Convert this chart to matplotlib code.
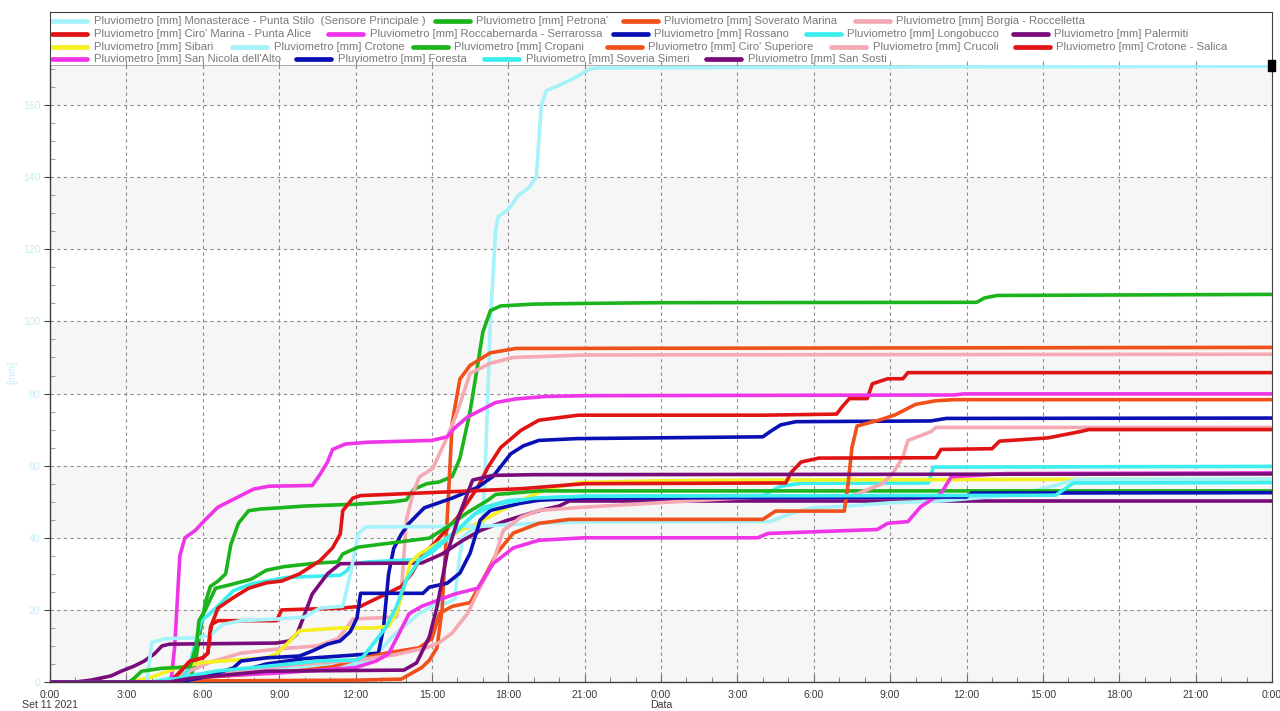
import matplotlib
matplotlib.use("Agg")
import matplotlib.pyplot as plt
import matplotlib.transforms as mtransforms
from matplotlib.lines import Line2D
from matplotlib.patches import Rectangle
from matplotlib.ticker import MultipleLocator, FixedLocator

plt.rcParams['font.family'] = ['Liberation Sans', 'DejaVu Sans']

# ---------------- data (hours from Set 11 2021 0:00, cumulative mm) ----------------
names = [
    "Pluviometro [mm] Monasterace - Punta Stilo  (Sensore Principale )",
    "Pluviometro [mm] Petrona'",
    "Pluviometro [mm] Soverato Marina",
    "Pluviometro [mm] Borgia - Roccelletta",
    "Pluviometro [mm] Ciro' Marina - Punta Alice",
    "Pluviometro [mm] Roccabernarda - Serrarossa",
    "Pluviometro [mm] Rossano",
    "Pluviometro [mm] Longobucco",
    "Pluviometro [mm] Palermiti",
    "Pluviometro [mm] Sibari",
    "Pluviometro [mm] Crotone",
    "Pluviometro [mm] Cropani",
    "Pluviometro [mm] Ciro' Superiore",
    "Pluviometro [mm] Crucoli",
    "Pluviometro [mm] Crotone - Salica",
    "Pluviometro [mm] San Nicola dell'Alto",
    "Pluviometro [mm] Foresta",
    "Pluviometro [mm] Soveria Simeri",
    "Pluviometro [mm] San Sosti",
]

PALE = '#a6f2fa'; GREEN = '#1cb41c'; ORANGE = '#f0501a'; PINK = '#f4a9b3'
RED = '#e01414'; MAGENTA = '#f034e8'; BLUE = '#0a10b4'; CYAN = '#3ceeee'
PURPLE = '#7a0c7a'; YELLOW = '#f6f020'

colors = [PALE, GREEN, ORANGE, PINK, RED, MAGENTA, BLUE, CYAN, PURPLE, YELLOW,
          PALE, GREEN, ORANGE, PINK, RED, MAGENTA, BLUE, CYAN, PURPLE]

t_monasterace = [0, 4.0, 4.5, 5.5, 7, 9, 11, 12, 12.5, 13.0, 13.5, 14.0, 14.5, 15.0, 15.6, 15.9, 16.0, 16.2, 16.5, 17.0, 17.1, 17.3, 17.5, 17.6, 18.0, 18.4, 18.8, 19.1, 19.3, 19.5, 20.0, 20.6, 21.2, 21.5, 30, 48]
v_monasterace = [0, 0, 1, 2, 3, 4, 4.5, 5, 6, 9, 13, 16, 19, 21, 22, 23, 30, 40, 42, 43, 60, 100, 125, 129, 131, 135, 137, 140, 160, 164, 165.5, 167.5, 170, 170.3, 170.5, 170.8]

t_petrona = [0, 5.2, 5.5, 5.7, 5.9, 6.1, 6.3, 6.6, 6.9, 7.1, 7.4, 7.8, 8.3, 9, 10, 12, 13.5, 14.0, 14.3, 14.8, 15.3, 15.8, 16.1, 16.5, 16.8, 17.0, 17.3, 17.7, 19, 21, 24, 36.4, 36.7, 37.2, 48]
v_petrona = [0, 0, 1, 5, 14, 22, 26.5, 28, 30, 38, 44, 47.5, 48, 48.3, 48.8, 49.3, 50, 50.5, 53.5, 55, 55.5, 57, 62, 75, 88, 97, 103, 104.3, 104.8, 105, 105.2, 105.3, 106.5, 107.2, 107.5]

t_soverato = [0, 5, 6, 12, 13.8, 14.1, 14.6, 14.9, 15.2, 15.4, 15.6, 15.8, 16.1, 16.5, 17.3, 18.3, 48]
v_soverato = [0, 0, 0.3, 0.5, 0.8, 2, 4, 6, 9.5, 20, 45, 72, 84, 87.8, 91.3, 92.5, 92.8]

t_borgia = [0, 4.5, 5.3, 6.3, 7.5, 9, 10.5, 11.3, 11.6, 11.9, 13.6, 13.8, 14.0, 14.26, 14.5, 15.04, 15.6, 15.98, 16.5, 17.3, 18.2, 21, 48]
v_borgia = [0, 0, 2.5, 5.5, 8, 9.2, 10, 12, 14.5, 17.5, 18, 25, 45, 52.4, 56.8, 59.3, 67.9, 74.5, 85.6, 88.4, 90, 90.7, 90.9]

t_ciro_marina = [0, 4.7, 5.0, 5.5, 6.0, 6.2, 6.35, 6.6, 8.9, 9.1, 11.5, 12.2, 12.9, 13.8, 14.2, 14.6, 15.1, 16.0, 16.8, 17.2, 17.7, 18.5, 19.2, 20.75, 28, 30.9, 31.1, 31.4, 32.1, 32.3, 32.9, 33.5, 33.7, 48]
v_ciro_marina = [0, 0, 2, 5.8, 6.7, 8, 16, 17, 17, 20, 20.5, 21, 23.4, 26.5, 30, 35, 38.5, 45.6, 54, 59.5, 65, 69.8, 72.6, 74, 74, 74.3, 76.2, 78.6, 78.6, 82.7, 84.1, 84.1, 85.8, 85.8]

t_roccabernarda = [0, 4.75, 4.9, 5.1, 5.3, 5.7, 6.1, 6.6, 7.3, 8.0, 8.6, 10.3, 10.6, 10.9, 11.1, 11.6, 12.5, 15.0, 15.6, 15.9, 16.4, 16.9, 17.5, 18.3, 19.5, 21, 35.5, 35.9, 48]
v_roccabernarda = [0, 0, 10, 35, 40, 42, 45, 48.5, 51, 53.5, 54.3, 54.5, 57.5, 61, 64.5, 66, 66.5, 67, 68, 70.5, 73.5, 75.3, 77.5, 78.5, 79.2, 79.4, 79.6, 79.9, 79.9]

t_rossano = [0, 5.0, 5.5, 6.5, 7.5, 8.5, 10, 12, 12.9, 13.1, 13.3, 13.5, 13.8, 14.1, 14.7, 15.8, 16.8, 17.4, 18.1, 18.6, 19.2, 20.7, 28, 28.3, 28.7, 29.3, 34.6, 35.2, 48]
v_rossano = [0, 0, 1, 2, 3, 5, 6.5, 7.5, 8, 15, 30, 37, 41, 44, 48.3, 51, 54, 57, 63.3, 65.5, 67, 67.5, 68, 69.5, 71.3, 72.2, 72.4, 73.1, 73.2]

t_longobucco = [0, 5.0, 5.3, 5.5, 5.75, 5.95, 6.4, 6.8, 7.2, 7.9, 8.5, 9.3, 11.4, 11.6, 11.9, 12.5, 14.5, 15.0, 15.5, 16.0, 16.5, 17.0, 18.0, 19.3, 21, 28, 28.7, 29.5, 34.5, 34.7, 48]
v_longobucco = [0, 0, 2, 5, 12, 17, 19.7, 22.5, 25.3, 27.2, 28, 29, 29.6, 30.5, 32.8, 33.3, 34, 36, 39, 42, 45.5, 48.3, 50.3, 51, 51.5, 51.7, 54.3, 55.1, 55.2, 59.6, 59.8]

t_palermiti = [0, 1.0, 1.6, 2.4, 2.8, 3.3, 3.7, 4.1, 4.4, 4.7, 8.9, 9.4, 9.7, 9.95, 10.3, 10.9, 11.4, 12.3, 14.6, 15.4, 16.2, 16.9, 17.9, 19.2, 20, 20.4, 48]
v_palermiti = [0, 0, 0.5, 1.7, 3, 4.4, 5.8, 7.8, 10, 10.5, 10.8, 11.4, 13.3, 17.8, 24.4, 30, 32.8, 32.9, 33, 35.5, 39.2, 42, 44.7, 47.5, 48.8, 50.2, 50.2]

t_sibari = [0, 3.1, 3.9, 5.0, 5.9, 6.7, 8.5, 8.9, 9.3, 9.8, 11.4, 12.8, 13.3, 13.6, 13.9, 14.15, 14.5, 15.2, 16.1, 16.8, 17.7, 18.7, 19.5, 20.8, 24, 28, 40, 48]
v_sibari = [0, 0, 1.1, 3.9, 5.3, 5.8, 6.7, 7.8, 10.5, 14.2, 15, 15, 15.5, 19, 26, 33, 35.5, 38.3, 42, 44, 47.5, 51, 53.5, 55.3, 55.8, 56, 56.2, 56.2]

t_crotone = [0, 3.8, 4.0, 4.5, 5.8, 6.3, 6.8, 7.5, 9, 10, 10.6, 11.5, 11.8, 12.1, 12.4, 17, 19, 21, 28.3, 29, 29.9, 31.4, 33, 35, 38, 39.5, 40.3, 48]
v_crotone = [0, 0, 11, 12, 12.3, 13, 16, 17, 17.5, 18, 20.5, 21, 30, 41, 43, 43.2, 44, 44.4, 44.5, 46.5, 48.3, 48.8, 49.7, 50.2, 52, 54.5, 56.2, 56.3]

t_cropani = [0, 3.1, 3.3, 3.6, 4.4, 5.5, 5.75, 5.85, 6.1, 6.5, 7.1, 7.9, 8.5, 9.2, 10.5, 11.3, 11.5, 12.1, 14.9, 15.6, 16.4, 17.2, 17.5, 19.2, 48]
v_cropani = [0, 0, 1, 3, 3.8, 4.2, 10, 17, 20, 26, 27, 28.5, 31, 32, 33, 33.3, 35.5, 37.4, 39.9, 43, 47, 50.4, 52, 53, 53]

t_ciro_sup = [0, 5.0, 5.5, 6.3, 8, 10, 11.1, 11.9, 13.2, 14.5, 15.0, 15.3, 15.8, 16.5, 17.0, 17.55, 18.2, 19.2, 20.4, 28, 28.5, 31.2, 31.35, 31.5, 31.7, 32.6, 33.2, 34.0, 34.8, 35.5, 48]
v_ciro_sup = [0, 0, 0.5, 1.4, 2.2, 3.3, 4.2, 6, 8, 9.5, 12, 19, 21, 22, 28.3, 35.7, 41.3, 44, 45.1, 45.1, 47.4, 47.4, 55, 65, 71, 72.7, 74.1, 77, 78, 78.3, 78.3]

t_crucoli = [0, 4.6, 6.0, 8, 10, 12, 13.5, 14.8, 15.3, 15.8, 16.4, 16.9, 17.4, 17.8, 18.5, 19.2, 21, 28, 31.5, 32.7, 33.1, 33.5, 33.7, 34.6, 34.8, 48]
v_crucoli = [0, 0, 2, 3.5, 5, 6, 7.5, 9.5, 11, 13.6, 19, 26.3, 33, 42, 45.7, 47.6, 48.5, 51.4, 51.6, 55, 57.8, 62.4, 67, 69.4, 70.6, 70.6]

t_salica = [0, 4.7, 5.0, 5.5, 6.0, 6.2, 6.3, 6.6, 7.2, 7.8, 8.5, 9.1, 9.8, 10.6, 11.1, 11.4, 11.5, 11.9, 12.2, 18.5, 21, 28.9, 29.1, 29.5, 30.2, 34.8, 35.0, 37.0, 37.3, 39.2, 40.5, 40.8, 48]
v_salica = [0, 0, 2, 5.8, 6.7, 8, 15, 20.5, 23.4, 26, 27.5, 28, 30, 33.6, 37.2, 41, 47.5, 51, 51.7, 53.6, 55, 55.2, 58, 61, 62.1, 62.2, 64.5, 64.7, 66.8, 67.7, 69.5, 70, 70]

t_san_nicola = [0, 4.5, 6, 9, 11, 12, 12.8, 13.3, 13.7, 14.1, 14.6, 15.9, 16.8, 17.4, 18.2, 19.2, 21, 27.8, 28.2, 32.5, 32.9, 33.7, 34.2, 35, 35.4, 37.5, 48]
v_san_nicola = [0, 0, 1.5, 2.5, 3.5, 4, 5.8, 7.8, 13.3, 18.9, 21, 24.4, 26, 32.8, 37.2, 39.3, 40, 40, 41.2, 42.3, 44, 44.5, 48.6, 52.3, 56.9, 57.8, 58]

t_foresta = [0, 5.0, 5.9, 6.6, 7.2, 7.5, 8.5, 9.8, 10.3, 10.9, 11.4, 11.8, 12.06, 12.2, 14.65, 14.9, 15.6, 16.1, 16.5, 16.9, 17.3, 18.5, 19.2, 21, 36.0, 36.2, 48]
v_foresta = [0, 0, 1.1, 2.5, 3.9, 5.8, 6.7, 7.2, 8.6, 10.5, 11.4, 14, 17.8, 24.6, 24.6, 26.3, 27.4, 30.2, 35.7, 44.9, 47.6, 49.6, 50.4, 51, 51.3, 52.4, 52.5]

t_soveria = [0, 4.0, 5, 6.5, 8, 10.5, 12.0, 12.3, 13.2, 13.6, 14.0, 14.5, 15.2, 16, 16.7, 17.6, 19, 21, 39.5, 40.2, 48]
v_soveria = [0, 0, 1, 3, 4, 5.8, 6.1, 7, 15.2, 20.8, 28.3, 33.8, 38, 42, 46.7, 49.4, 51, 51.5, 51.8, 55.2, 55.3]

t_san_sosti = [0, 4.7, 5.5, 7, 8.5, 13.9, 14.4, 14.9, 15.2, 15.6, 16.1, 16.6, 17.4, 19, 48]
v_san_sosti = [0, 0, 1, 2, 3, 3.3, 5.3, 12.5, 20.8, 35.7, 46.8, 56, 57.3, 57.5, 57.7]

series_t = [t_monasterace, t_petrona, t_soverato, t_borgia, t_ciro_marina, t_roccabernarda,
            t_rossano, t_longobucco, t_palermiti, t_sibari, t_crotone, t_cropani, t_ciro_sup,
            t_crucoli, t_salica, t_san_nicola, t_foresta, t_soveria, t_san_sosti]
series_v = [v_monasterace, v_petrona, v_soverato, v_borgia, v_ciro_marina, v_roccabernarda,
            v_rossano, v_longobucco, v_palermiti, v_sibari, v_crotone, v_cropani, v_ciro_sup,
            v_crucoli, v_salica, v_san_nicola, v_foresta, v_soveria, v_san_sosti]

x_ticks = list(range(0, 49, 3))
x_tick_labels = [f"{h % 24}:00" for h in x_ticks]
y_ticks = list(range(0, 161, 20))

# legend layout: row index and handle left edge (pixels)
leg_row = [0, 0, 0, 0, 1, 1, 1, 1, 1, 2, 2, 2, 2, 2, 2, 3, 3, 3, 3]
leg_x = [50, 433, 621, 853, 50, 326, 611, 804, 1011, 50, 230, 411, 605, 829, 1013, 50, 294, 482, 704]
row_y = [20.7, 33.6, 46.5, 59.3]

# ---------------- figure ----------------
W, H = 1280, 711
fig = plt.figure(figsize=(W / 100, H / 100), dpi=100)
fig.patch.set_facecolor('white')

L, R, T, B, TOPLEG = 50, 1272, 64.7, 682, 12
ax = fig.add_axes([L / W, 1 - B / H, (R - L) / W, (B - T) / H])
ax.set_facecolor('white')
ax.set_xlim(0, 48)
ax.set_ylim(0, 171.2)

# alternating bands
for lo in range(0, 180, 40):
    ax.axhspan(lo, lo + 20, color='#f6f6f6', zorder=0, lw=0)

ax.xaxis.set_major_locator(FixedLocator(x_ticks))
ax.set_xticklabels(x_tick_labels)
ax.xaxis.set_minor_locator(MultipleLocator(1))
ax.yaxis.set_major_locator(FixedLocator(y_ticks))
ax.yaxis.set_minor_locator(MultipleLocator(5))

ax.grid(True, which='major', linestyle=(0, (3, 3)), color='#8c8c8c', linewidth=0.8, zorder=1)
ax.set_axisbelow(True)

ax.tick_params(axis='x', which='major', direction='in', length=5, color='#707070',
               labelsize=7.6, labelcolor='#3a3a3a', pad=6)
ax.tick_params(axis='x', which='minor', direction='in', length=3.5, color='#707070')
ax.tick_params(axis='y', which='major', direction='out', length=4, color='#404040',
               labelsize=7.6, labelcolor='#c2eff6', pad=3)
ax.tick_params(axis='y', which='minor', direction='in', length=3.5, color='#909090')

for s in ['left', 'bottom']:
    ax.spines[s].set_color('#404040')
    ax.spines[s].set_linewidth(1.0)
ax.spines['right'].set_color('#404040')
ax.spines['top'].set_color('#b0b0b0')

for t, v, c in zip(series_t, series_v, colors):
    ax.plot(t, v, color=c, lw=2.6, solid_joinstyle='round', solid_capstyle='round', zorder=3)

# legend area above the plot
axl = fig.add_axes([L / W, 1 - T / H, (R - L) / W, (T - TOPLEG) / H])
axl.set_xlim(0, 48)
axl.set_ylim(T, TOPLEG)
axl.set_facecolor('white')
axl.set_yticks([])
axl.xaxis.set_major_locator(FixedLocator(x_ticks))
axl.tick_params(axis='x', which='major', direction='in', length=3, color='#909090', labelbottom=False)
for s in ['left', 'top', 'right']:
    axl.spines[s].set_color('#404040')
axl.spines['bottom'].set_visible(False)

blend = mtransforms.blended_transform_factory(axl.transAxes, axl.transData)
for name, c, r, hx in zip(names, colors, leg_row, leg_x):
    y = row_y[r]
    fx0 = (hx - L) / (R - L)
    fx1 = (hx + 37 - L) / (R - L)
    axl.add_line(Line2D([fx0 + 0.002, fx1], [y, y], color=c, lw=3.4, solid_capstyle='round',
                        transform=blend, clip_on=False))
    axl.text((hx + 43.5 - L) / (R - L), y, name, transform=blend, va='center', ha='left',
             fontsize=8.1, color='#7a7a7a')

# axis texts
fig.text(12 / W, 1 - 372 / H, '[mm]', rotation=90, ha='center', va='center',
         fontsize=7.5, color='#c2eff6')
fig.text(50 / W, 1 - 705.5 / H, 'Set 11 2021', ha='center', va='center', fontsize=7.6, color='#3a3a3a')
fig.text(661 / W, 1 - 705.5 / H, 'Data', ha='center', va='center', fontsize=7.6, color='#3a3a3a')

# small black marker at top right
fig.add_artist(Rectangle((1268 / W, 1 - 71 / H), 7 / W, 11 / H, transform=fig.transFigure,
                         color='black', zorder=10))

fig.savefig('out.png', dpi=100, facecolor='white')
